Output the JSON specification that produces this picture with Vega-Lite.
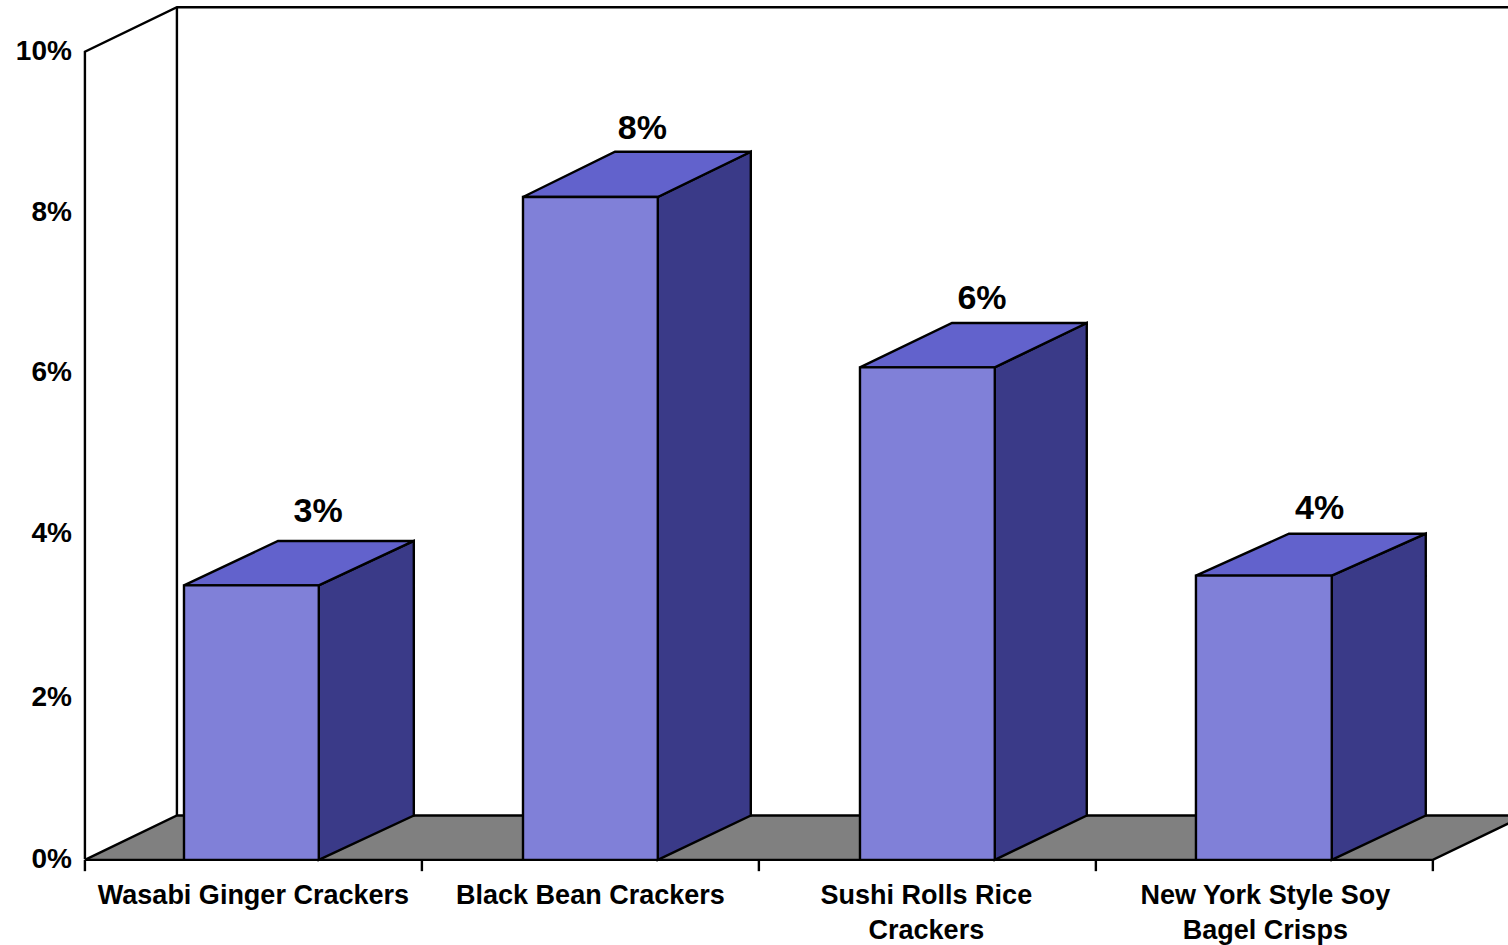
{"$schema":"https://vega.github.io/schema/vega-lite/v6.json","width":1508,"height":945,"autosize":{"type":"fit","contains":"padding"},"padding":0,"background":"#ffffff","config":{"view":{"stroke":null}},
"datasets":{
"frame":[{"i":1,"x":0,"y":0,"s":"front"},{"i":2,"x":0,"y":10,"s":"front"},{"i":3,"x":0.273,"y":10.55,"s":"front"},{"i":4,"x":4.3,"y":10.55,"s":"front"},{"i":1,"x":0.273,"y":10.55,"s":"back"},{"i":2,"x":0.273,"y":0.54,"s":"back"}],
"floor":[{"x":0,"y":-0.01,"y2":-0.01},{"x":0.273,"y":-0.01,"y2":0.54},{"x":4,"y":-0.01,"y2":0.54},{"x":4.273,"y":0.54,"y2":0.54}],
"floorEdge":[{"i":1,"x":0,"y":-0.01,"s":"f"},{"i":2,"x":4,"y":-0.01,"s":"f"},{"i":3,"x":4.273,"y":0.54,"s":"f"},{"i":1,"x":0,"y":-0.01,"s":"b"},{"i":2,"x":0.273,"y":0.54,"s":"b"},{"i":3,"x":4.273,"y":0.54,"s":"b"}],
"ticks":[{"x":0,"y0":-0.01,"y1":-0.15},{"x":1,"y0":-0.01,"y1":-0.15},{"x":2,"y0":-0.01,"y1":-0.15},{"x":3,"y0":-0.01,"y1":-0.15},{"x":4,"y0":-0.01,"y1":-0.15}],
"yLabels":[{"x":0,"y":-0.01,"t":"0%"},{"x":0,"y":2,"t":"2%"},{"x":0,"y":4.03,"t":"4%"},{"x":0,"y":6.02,"t":"6%"},{"x":0,"y":8,"t":"8%"},{"x":0,"y":9.99,"t":"10%"}],
"bars":[
{"name":"Wasabi Ginger Crackers","a":0.294,"b":0.694,"base":-0.01,"value":3.39},
{"name":"Black Bean Crackers","a":1.30,"b":1.70,"base":-0.01,"value":8.2},
{"name":"Sushi Rolls Rice Crackers","a":2.30,"b":2.70,"base":-0.01,"value":6.09},
{"name":"New York Style Soy Bagel Crisps","a":3.297,"b":3.70,"base":-0.01,"value":3.51}],
"side":[
{"bar":"w","x":0.694,"lo":-0.01,"hi":3.39},{"bar":"w","x":0.976,"lo":0.54,"hi":3.94},
{"bar":"b","x":1.70,"lo":-0.01,"hi":8.2},{"bar":"b","x":1.976,"lo":0.54,"hi":8.76},
{"bar":"s","x":2.70,"lo":-0.01,"hi":6.09},{"bar":"s","x":2.973,"lo":0.54,"hi":6.64},
{"bar":"n","x":3.70,"lo":-0.01,"hi":3.51},{"bar":"n","x":3.979,"lo":0.54,"hi":4.03}],
"top":[
{"bar":"w","x":0.294,"lo":3.39,"hi":3.39},{"bar":"w","x":0.573,"lo":3.39,"hi":3.94},{"bar":"w","x":0.694,"lo":3.39,"hi":3.94},{"bar":"w","x":0.976,"lo":3.94,"hi":3.94},
{"bar":"b","x":1.30,"lo":8.2,"hi":8.2},{"bar":"b","x":1.573,"lo":8.2,"hi":8.76},{"bar":"b","x":1.70,"lo":8.2,"hi":8.76},{"bar":"b","x":1.976,"lo":8.76,"hi":8.76},
{"bar":"s","x":2.30,"lo":6.09,"hi":6.09},{"bar":"s","x":2.573,"lo":6.09,"hi":6.64},{"bar":"s","x":2.70,"lo":6.09,"hi":6.64},{"bar":"s","x":2.973,"lo":6.64,"hi":6.64},
{"bar":"n","x":3.297,"lo":3.51,"hi":3.51},{"bar":"n","x":3.573,"lo":3.51,"hi":4.03},{"bar":"n","x":3.70,"lo":3.51,"hi":4.03},{"bar":"n","x":3.979,"lo":4.03,"hi":4.03}],
"barLabels":[
{"x":0.692,"y":4.3,"t":"3%"},{"x":1.654,"y":9.045,"t":"8%"},{"x":2.662,"y":6.94,"t":"6%"},{"x":3.664,"y":4.34,"t":"4%"}],
"cats":[
{"x":0.5,"y":-0.46,"t":"Wasabi Ginger Crackers"},
{"x":1.5,"y":-0.46,"t":"Black Bean Crackers"},
{"x":2.497,"y":-0.46,"t":"Sushi Rolls Rice"},
{"x":2.497,"y":-0.893,"t":"Crackers"},
{"x":3.503,"y":-0.46,"t":"New York Style Soy"},
{"x":3.503,"y":-0.893,"t":"Bagel Crisps"}]
},
"layer":[
{"data":{"name":"floor"},"mark":{"type":"area","fill":"#808080","clip":true},"encoding":{"x":{"field":"x","type":"quantitative","axis":null,"scale":{"domain":[-0.252,4.223],"nice":false,"zero":false}},"y":{"field":"y","type":"quantitative","axis":null,"scale":{"domain":[-1.052,10.64],"nice":false,"zero":false}},"y2":{"field":"y2"}}},
{"data":{"name":"floorEdge"},"mark":{"type":"line","color":"#000000","strokeWidth":2.4,"clip":true},"encoding":{"x":{"field":"x","type":"quantitative","axis":null,"scale":{"domain":[-0.252,4.223],"nice":false,"zero":false}},"y":{"field":"y","type":"quantitative","axis":null,"scale":{"domain":[-1.052,10.64],"nice":false,"zero":false}},"detail":{"field":"s","type":"nominal"},"order":{"field":"i","type":"quantitative"}}},
{"data":{"name":"frame"},"mark":{"type":"line","color":"#000000","strokeWidth":2.4,"clip":true},"encoding":{"x":{"field":"x","type":"quantitative","axis":null,"scale":{"domain":[-0.252,4.223],"nice":false,"zero":false}},"y":{"field":"y","type":"quantitative","axis":null,"scale":{"domain":[-1.052,10.64],"nice":false,"zero":false}},"detail":{"field":"s","type":"nominal"},"order":{"field":"i","type":"quantitative"}}},
{"data":{"name":"ticks"},"mark":{"type":"rule","color":"#000000","strokeWidth":2.4},"encoding":{"x":{"field":"x","type":"quantitative","axis":null,"scale":{"domain":[-0.252,4.223],"nice":false,"zero":false}},"y":{"field":"y0","type":"quantitative","axis":null,"scale":{"domain":[-1.052,10.64],"nice":false,"zero":false}},"y2":{"field":"y1"}}},
{"data":{"name":"side"},"mark":{"type":"area","fill":"#3a3a88","stroke":"#000000","strokeWidth":2.4},"encoding":{"x":{"field":"x","type":"quantitative","axis":null,"scale":{"domain":[-0.252,4.223],"nice":false,"zero":false}},"y":{"field":"lo","type":"quantitative","axis":null,"scale":{"domain":[-1.052,10.64],"nice":false,"zero":false}},"y2":{"field":"hi"},"detail":{"field":"bar","type":"nominal"}}},
{"data":{"name":"top"},"mark":{"type":"area","fill":"#6262cc","stroke":"#000000","strokeWidth":2.4},"encoding":{"x":{"field":"x","type":"quantitative","axis":null,"scale":{"domain":[-0.252,4.223],"nice":false,"zero":false}},"y":{"field":"lo","type":"quantitative","axis":null,"scale":{"domain":[-1.052,10.64],"nice":false,"zero":false}},"y2":{"field":"hi"},"detail":{"field":"bar","type":"nominal"}}},
{"data":{"name":"bars"},"mark":{"type":"rect","fill":"#8080d8","stroke":"#000000","strokeWidth":2.4},"encoding":{"x":{"field":"a","type":"quantitative","axis":null,"scale":{"domain":[-0.252,4.223],"nice":false,"zero":false}},"x2":{"field":"b"},"y":{"field":"base","type":"quantitative","axis":null,"scale":{"domain":[-1.052,10.64],"nice":false,"zero":false}},"y2":{"field":"value"}}},
{"data":{"name":"barLabels"},"mark":{"type":"text","font":"Liberation Sans","fontWeight":"bold","fontSize":34,"color":"#000000"},"encoding":{"x":{"field":"x","type":"quantitative","axis":null,"scale":{"domain":[-0.252,4.223],"nice":false,"zero":false}},"y":{"field":"y","type":"quantitative","axis":null,"scale":{"domain":[-1.052,10.64],"nice":false,"zero":false}},"text":{"field":"t","type":"nominal"}}},
{"data":{"name":"yLabels"},"mark":{"type":"text","font":"Liberation Sans","fontWeight":"bold","fontSize":28,"align":"right","dx":-13,"color":"#000000"},"encoding":{"x":{"field":"x","type":"quantitative","axis":null,"scale":{"domain":[-0.252,4.223],"nice":false,"zero":false}},"y":{"field":"y","type":"quantitative","axis":null,"scale":{"domain":[-1.052,10.64],"nice":false,"zero":false}},"text":{"field":"t","type":"nominal"}}},
{"data":{"name":"cats"},"mark":{"type":"text","font":"Liberation Sans","fontWeight":"bold","fontSize":27,"color":"#000000"},"encoding":{"x":{"field":"x","type":"quantitative","axis":null,"scale":{"domain":[-0.252,4.223],"nice":false,"zero":false}},"y":{"field":"y","type":"quantitative","axis":null,"scale":{"domain":[-1.052,10.64],"nice":false,"zero":false}},"text":{"field":"t","type":"nominal"}}}
]}
